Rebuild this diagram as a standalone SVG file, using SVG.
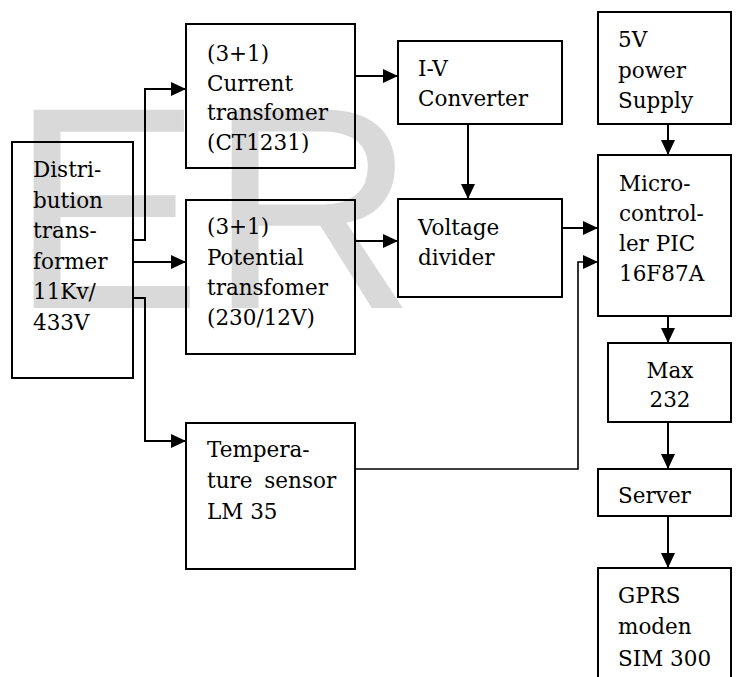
<svg xmlns="http://www.w3.org/2000/svg" width="736" height="677" viewBox="0 0 736 677">
<style>
.box{fill:none;stroke:#000;stroke-width:2}
.t{font-family:"DejaVu Serif","Liberation Serif",serif;font-size:21.5px;fill:#000}
.c{fill:none;stroke:#000;stroke-width:2}
.thin{stroke-width:1.6}
.wm{font-family:"Liberation Sans",Arial,sans-serif;font-size:288px;fill:#d9d9d9}
</style>
<defs>
<marker id="ah" markerUnits="userSpaceOnUse" markerWidth="15" markerHeight="14" refX="15" refY="7" orient="auto">
<path d="M0,0 L15,7 L0,14 z" fill="#000"/>
</marker>
</defs>
<rect width="736" height="677" fill="#fff"/>
<text class="wm" x="10" y="308" letter-spacing="6">ER</text>

<g id="distribution">
<rect class="box" x="12" y="142" width="121" height="236"/>
<text class="t"><tspan x="33" y="177">Distri-</tspan><tspan x="33" y="207.5">bution</tspan><tspan x="33" y="238">trans-</tspan><tspan x="33" y="268.5">former</tspan><tspan x="33" y="299">11Kv/</tspan><tspan x="33" y="329.5">433V</tspan></text>
</g>
<g id="current">
<rect class="box" x="186" y="24" width="169" height="144"/>
<text class="t"><tspan x="207" y="61">(3+1)</tspan><tspan x="207" y="90.5">Current</tspan><tspan x="207" y="120">transfomer</tspan><tspan x="207" y="149.5">(CT1231)</tspan></text>
</g>
<g id="potential">
<rect class="box" x="186" y="200" width="169" height="154"/>
<text class="t"><tspan x="207" y="234">(3+1)</tspan><tspan x="207" y="264.5">Potential</tspan><tspan x="207" y="295">transfomer</tspan><tspan x="207" y="325">(230/12V)</tspan></text>
</g>
<g id="temperature">
<rect class="box" x="186" y="423" width="169" height="146"/>
<text class="t"><tspan x="207" y="457">Tempera-</tspan><tspan x="207" y="488" word-spacing="5">ture sensor</tspan><tspan x="207" y="519">LM 35</tspan></text>
</g>
<g id="iv">
<rect class="box" x="398" y="41" width="164" height="83"/>
<text class="t"><tspan x="418" y="76">I-V</tspan><tspan x="418" y="106">Converter</tspan></text>
</g>
<g id="voltage">
<rect class="box" x="398" y="199" width="164" height="98"/>
<text class="t"><tspan x="418" y="235">Voltage</tspan><tspan x="418" y="265">divider</tspan></text>
</g>
<g id="power">
<rect class="box" x="598" y="12" width="133" height="112"/>
<text class="t"><tspan x="618" y="47">5V</tspan><tspan x="618" y="78">power</tspan><tspan x="618" y="108">Supply</tspan></text>
</g>
<g id="micro">
<rect class="box" x="598" y="155" width="133" height="161"/>
<text class="t"><tspan x="619" y="191">Micro-</tspan><tspan x="619" y="221">control-</tspan><tspan x="619" y="251">ler PIC</tspan><tspan x="619" y="281">16F87A</tspan></text>
</g>
<g id="max">
<rect class="box" x="608" y="343" width="123" height="79"/>
<text class="t" text-anchor="middle"><tspan x="670" y="378">Max</tspan><tspan x="670" y="407">232</tspan></text>
</g>
<g id="server">
<rect class="box" x="598" y="469" width="133" height="47"/>
<text class="t"><tspan x="618" y="503">Server</tspan></text>
</g>
<g id="gprs">
<rect class="box" x="598" y="568" width="133" height="120"/>
<text class="t"><tspan x="618" y="603">GPRS</tspan><tspan x="618" y="634">moden</tspan><tspan x="618" y="666">SIM 300</tspan></text>
</g>

<g id="connectors">
<path class="c" d="M133,240 H145 V89 H186" marker-end="url(#ah)"/>
<path class="c" d="M133,262 H186" marker-end="url(#ah)"/>
<path class="c" d="M133,298 H145 V441 H186" marker-end="url(#ah)"/>
<path class="c" d="M355,76 H398" marker-end="url(#ah)"/>
<path class="c" d="M355,241 H398" marker-end="url(#ah)"/>
<path class="c" d="M468,124 V199" marker-end="url(#ah)"/>
<path class="c" d="M562,228 H598" marker-end="url(#ah)"/>
<path class="c thin" d="M355,469 H578 V262 H598" marker-end="url(#ah)"/>
<path class="c" d="M668,124 V155" marker-end="url(#ah)"/>
<path class="c" d="M668,316 V343" marker-end="url(#ah)"/>
<path class="c" d="M668,422 V469" marker-end="url(#ah)"/>
<path class="c" d="M668,516 V568" marker-end="url(#ah)"/>
</g>
</svg>
